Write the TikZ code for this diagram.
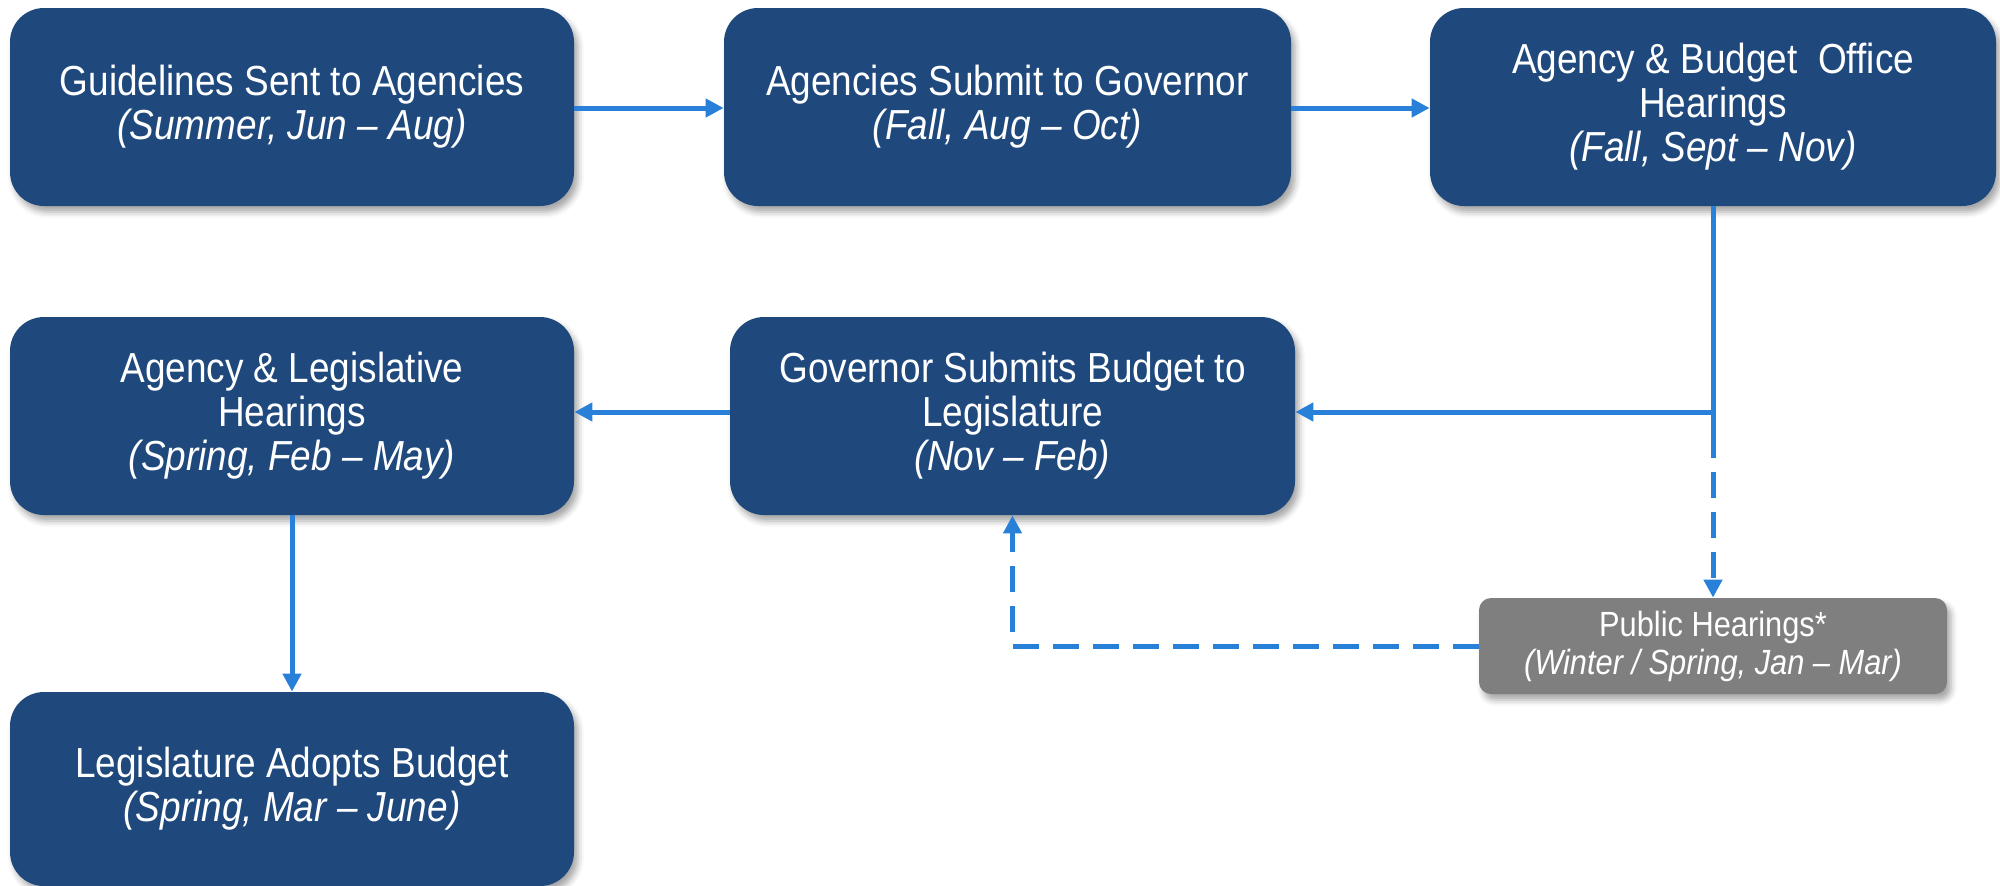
\documentclass[tikz,border=0pt]{standalone}
\usepackage{fontspec}
\setmainfont{Liberation Sans}[FakeStretch=0.88]
\usetikzlibrary{arrows.meta,shadows.blur}
\definecolor{boxblue}{RGB}{31,73,125}
\definecolor{arrowblue}{RGB}{41,128,216}
\definecolor{boxgray}{RGB}{127,127,127}
\tikzset{
  stepbox/.style={rectangle, rounded corners=17pt, fill=boxblue, text=white, align=center,
    font=\fontsize{21}{22}\selectfont, minimum height=99pt, inner sep=0pt,
    blur shadow={shadow xshift=2pt, shadow yshift=-3pt, shadow blur radius=3pt, shadow opacity=35}},
  pubbox/.style={rectangle, rounded corners=6pt, fill=boxgray, text=white, align=center,
    font=\fontsize{17.5}{19}\selectfont, minimum width=234pt, minimum height=48pt, inner sep=0pt,
    blur shadow={shadow xshift=2pt, shadow yshift=-3pt, shadow blur radius=3pt, shadow opacity=35}},
  conn/.style={draw=arrowblue, line width=2.5pt},
  tipped/.style={-{Triangle[length=9pt,width=9pt]}},
  dashconn/.style={conn, dash pattern=on 13pt off 7pt},
}
\begin{document}
\begin{tikzpicture}[x=0.5pt,y=-0.5pt]
\useasboundingbox (0,0) rectangle (2000,885);
\node[stepbox, minimum width=282pt] (g1) at (292,107) {Guidelines Sent to Agencies\\\itshape (Summer, Jun -- Aug)};
\node[stepbox, minimum width=283.5pt] (g2) at (1007.5,107) {Agencies Submit to Governor\\\itshape (Fall, Aug -- Oct)};
\node[stepbox, minimum width=283pt] (g3) at (1713,107) {Agency \& Budget~ Office\\Hearings\\\itshape (Fall, Sept -- Nov)};
\node[stepbox, minimum width=282.5pt] (g4) at (1012.5,416) {Governor Submits Budget to\\Legislature\\\itshape (Nov -- Feb)};
\node[stepbox, minimum width=282pt] (g5) at (292,416) {Agency \& Legislative\\Hearings\\\itshape (Spring, Feb -- May)};
\node[stepbox, minimum width=282pt, minimum height=97pt] (g6) at (292,789) {Legislature Adopts Budget\\\itshape (Spring, Mar -- June)};
\node[pubbox] (ph) at (1713,646) {Public Hearings*\\\itshape (Winter / Spring, Jan -- Mar)};

\coordinate (J) at (g3.south |- 0,412);
\coordinate (Jd) at (1713,432);
\coordinate (K) at (g4.south |- ph.west);

\draw[conn,tipped] (g1.east |- 0,108) -- (g2.west |- 0,108);
\draw[conn,tipped] (g2.east |- 0,108) -- (g3.west |- 0,108);
\draw[conn] (g3.south) -- (Jd);
\draw[conn,tipped] (J) -- (J -| g4.east);
\draw[dashconn,tipped] (Jd) -- (ph.north);
\draw[conn,tipped] (g4.west |- 0,412) -- (g5.east |- 0,412);
\draw[conn,tipped] (g5) -- (g6);
\draw[dashconn,tipped] (ph.west) -- (K) -- (g4.south);
\end{tikzpicture}
\end{document}
